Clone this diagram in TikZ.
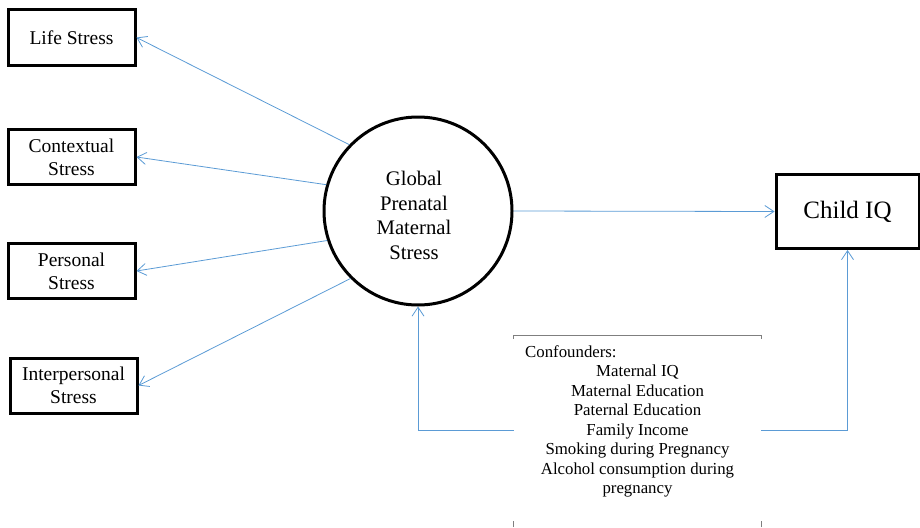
\documentclass[tikz,border=0pt]{standalone}
\usepackage{fontspec}
\setmainfont{Liberation Serif}
\usepackage{tikz}
\usetikzlibrary{arrows.meta, positioning, calc}
\definecolor{linkblue}{HTML}{5B9BD5}
\definecolor{framegray}{HTML}{7F7F7F}

\begin{document}
\begin{tikzpicture}[x=1pt, y=-1pt,
		stressbox/.style={draw, rectangle, line width=3pt, minimum width=127pt, minimum height=55pt, inner sep=2pt, align=center, font=\fontsize{19.5}{23}\selectfont},
		latent/.style={draw, circle, line width=3pt, minimum size=188pt, inner sep=0pt},
		link/.style={draw=linkblue, line width=0.8pt, -{Straight Barb[length=9pt, width=12pt]}}]
		\useasboundingbox (0,0) rectangle (920,527);
		\node[stressbox] (life) at (71.5,37.5) {Life Stress};
		\node[stressbox] (ctx) at (71.5,157) {Contextual\\Stress};
		\node[stressbox] (pers) at (71.5,271) {Personal\\Stress};
		\node[stressbox] (inter) at (73.5,385.5) {Interpersonal\\Stress};
		\node[latent] (glob) at (418,211) {};
		\node[align=center, font=\fontsize{20.7}{24.5}\selectfont] (globtext) at ([xshift=-4pt, yshift=-4.5pt]glob.center) {Global\\Prenatal\\Maternal\\Stress};
		\node[draw, rectangle, line width=3pt, minimum width=143pt, minimum height=74pt, font=\fontsize{25}{30}\selectfont] (iq) at (847.5,211.5) {Child IQ};
		\node[minimum width=247pt, minimum height=190pt, inner sep=0pt] (conf) at (637.5,431) {};
		\node[anchor=west, inner sep=0pt, font=\fontsize{16.8}{19.5}\selectfont] (conftitle) at (525,352) {Confounders:};
		\node[align=center, inner sep=0pt, font=\fontsize{16.8}{19.5}\selectfont] (conflist) at (637.5,431) {Maternal IQ\\Maternal Education\\Paternal Education\\Family Income\\Smoking during Pregnancy\\Alcohol consumption during\\pregnancy};
		\draw[framegray, line width=0.8pt] ([yshift=-3pt]conf.north west) -- (conf.north west) -- (conf.north east) -- ++(0,-3pt);
		\draw[framegray, line width=0.8pt] ([yshift=-1pt]conf.south west) -- ++(0,6pt) ([yshift=-1pt]conf.south east) -- ++(0,6pt);
		\draw[link] (glob.136) -- (life.east);
		\draw[link] (glob.164) -- (ctx.east);
		\draw[link] (glob.198) -- (pers.east);
		\draw[link] (glob.225) -- (inter.east);
		\draw[link] (glob.east) -- (iq.west);
		\draw[link] ([yshift=1pt]conf.west) -| (glob.south);
		\draw[link] ([yshift=1pt]conf.east) -| (iq.south);
	\end{tikzpicture}
\end{document}
